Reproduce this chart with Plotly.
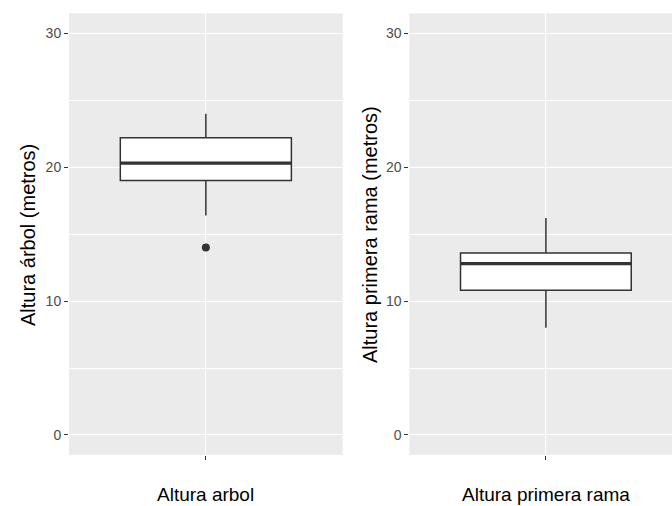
import plotly.graph_objects as go

# ---- data ----
panels = ["Altura arbol", "Altura primera rama"]
y_titles = ["Altura árbol (metros)", "Altura primera rama (metros)"]
q1 = [19.0, 10.8]
median = [20.3, 12.8]
q3 = [22.2, 13.6]
lower_whisker = [16.4, 8.0]
upper_whisker = [24.0, 16.2]
outliers = [[14.0], []]
y_ticks = [0, 10, 20, 30]
y_minor = [5, 15, 25]

BOX_W = 0.75
DARK = "#333333"
FONT = "Liberation Sans, Arial, sans-serif"

fig = go.Figure()
axes = [("x", "y"), ("x2", "y2")]
for i, (xa, ya) in enumerate(axes):
    fig.add_trace(go.Box(
        x=[1], q1=[q1[i]], median=[median[i]], q3=[q3[i]],
        lowerfence=[lower_whisker[i]], upperfence=[upper_whisker[i]],
        width=BOX_W, whiskerwidth=0, fillcolor="white",
        line=dict(color=DARK, width=1.5), boxpoints=False,
        xaxis=xa, yaxis=ya, showlegend=False, hoverinfo="skip"))
    # thicker median line as in ggplot
    fig.add_trace(go.Scatter(
        x=[1 - BOX_W / 2, 1 + BOX_W / 2], y=[median[i], median[i]],
        mode="lines", line=dict(color=DARK, width=3.2),
        xaxis=xa, yaxis=ya, showlegend=False, hoverinfo="skip"))
    if outliers[i]:
        fig.add_trace(go.Scatter(
            x=[1] * len(outliers[i]), y=outliers[i], mode="markers",
            marker=dict(color=DARK, size=8),
            xaxis=xa, yaxis=ya, showlegend=False, hoverinfo="skip"))

W, H = 672, 506
yd = [1 - 455 / H, 1 - 13.3 / H]
common_y = dict(range=[-1.5, 31.5], tickvals=y_ticks, ticks="outside", ticklen=4,
                tickcolor=DARK, tickwidth=1.2, showgrid=True, gridcolor="white",
                gridwidth=1.4, zeroline=False, showline=False,
                tickfont=dict(family=FONT, size=14, color="#4D4D4D"),
                minor=dict(tickvals=y_minor, showgrid=True, gridcolor="white",
                           gridwidth=0.7, ticks=""),
                domain=yd, fixedrange=True)
common_x = dict(tickvals=[1], ticktext=[""], ticks="outside", ticklen=4,
                tickcolor=DARK, tickwidth=1.2, showgrid=True, gridcolor="white",
                gridwidth=1.4, zeroline=False, showline=False, fixedrange=True)

fig.update_layout(
    width=W, height=H, margin=dict(l=0, r=0, t=0, b=0),
    paper_bgcolor="white", plot_bgcolor="#EBEBEB",
    xaxis=dict(common_x, domain=[69 / W, 342.7 / W], range=[0.4, 1.6], anchor="y"),
    yaxis=dict(common_y, anchor="x"),
    xaxis2=dict(common_x, domain=[409.3 / W, 1.0], range=[0.4, 1.554], anchor="y2"),
    yaxis2=dict(common_y, anchor="x2"),
    showlegend=False,
)

ann = []
x_centers = [205.7 / W, 546 / W]
ytitle_x = [28 / W, 370 / W]
for i in range(2):
    ann.append(dict(text=panels[i], x=x_centers[i], y=1 - 494 / H, xref="paper",
                    yref="paper", xanchor="center", yanchor="middle", showarrow=False,
                    font=dict(family=FONT, size=19, color="black")))
    ann.append(dict(text=y_titles[i], x=ytitle_x[i], y=1 - 235 / H, xref="paper",
                    yref="paper", xanchor="center", yanchor="middle", showarrow=False,
                    textangle=-90, font=dict(family=FONT, size=20, color="black")))
fig.update_layout(annotations=ann)

fig.write_html("out.html", config={"displayModeBar": False},
               post_script="document.body.style.margin='0px';document.body.style.overflow='hidden';")
